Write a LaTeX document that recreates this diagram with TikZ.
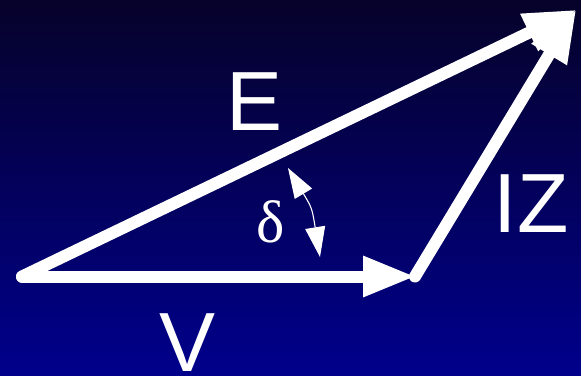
\documentclass[tikz,border=0pt]{standalone}
\usepackage{fontspec}
\setmainfont{Liberation Sans}
\newfontfamily\serifgreek{Liberation Serif}
\usetikzlibrary{arrows.meta}
\definecolor{bgtop}{RGB}{6,2,42}
\definecolor{bgbot}{RGB}{0,0,140}
\tikzset{
  phasor/.style={white, line width=12pt, line cap=round,
    -{Triangle[length=53pt,width=38pt]}, shorten >=-1pt},
  anglearrow/.style={white, line width=1.1pt,
    {Triangle[length=30pt,width=20pt]}-{Triangle[length=30pt,width=20pt]}},
  biglabel/.style={white, font=\fontsize{84}{84}\selectfont, inner sep=0pt},
}
\begin{document}
\begin{tikzpicture}[x=1pt,y=-1pt]
  \shade[top color=bgtop, bottom color=bgbot] (0,0) rectangle (581,375);
  \useasboundingbox (0,0) rectangle (581,375);
  \coordinate (O) at (22,276.5);
  \coordinate (P) at (415,276.5);
  \coordinate (T) at (576,10);
  \draw[phasor] (O) -- (P);
  \draw[phasor] (O) -- (T);
  \draw[phasor] (P) -- (T);
  % angle arc
  \coordinate (S1) at (288,168);
  \coordinate (S2) at (320,257);
  \coordinate (SC) at (312,208);
  \draw[anglearrow] (S1) .. controls (SC) .. (S2);
  \node[biglabel] (lE) at (255,102) {E};
  \node[biglabel] (lV) at (188,343) {V};
  \node[biglabel] (lIZ) at (531,203.5) {IZ};
  \node[white, font=\serifgreek\fontsize{60}{60}\selectfont, inner sep=0pt] (ld) at (271,222) {δ};
\end{tikzpicture}
\end{document}
